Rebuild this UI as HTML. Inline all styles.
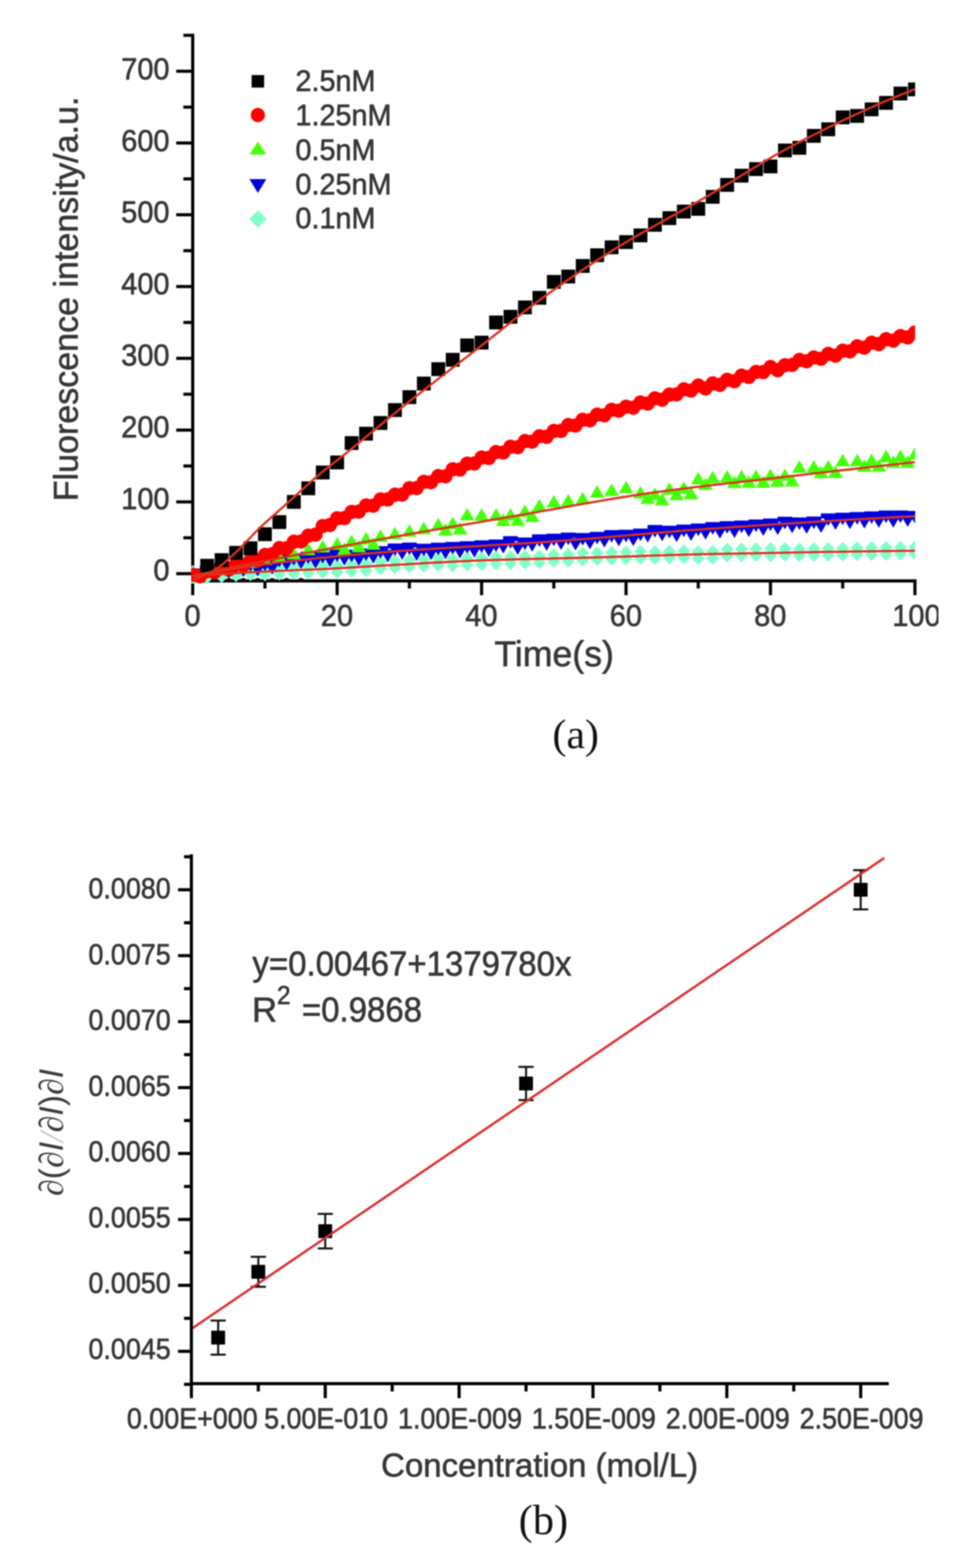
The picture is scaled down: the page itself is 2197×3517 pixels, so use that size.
<!DOCTYPE html>
<html><head><meta charset="utf-8"><title>Fluorescence kinetics figure</title>
<style>
html,body{margin:0;padding:0;background:#fff;}
body{width:2197px;height:3517px;overflow:hidden;}
svg{display:block;filter:blur(1.8px);}
text{stroke:#363636;stroke-width:1.3px;}
text[stroke=none]{stroke:none;}
</style></head><body>
<svg width="2197" height="3517" viewBox="0 0 2197 3517"><rect width="100%" height="100%" fill="#fff"/><g id="chartA">
<defs><clipPath id="clipA"><rect x="429" y="59.3" width="1624.7" height="1249.7"/></clipPath><clipPath id="clipX"><rect x="0" y="0" width="2106" height="3517"/></clipPath><clipPath id="clipB"><rect x="0" y="1900" width="2000" height="1203.5"/></clipPath></defs>
<g stroke="#000" stroke-width="7" fill="none" stroke-linecap="square">
<path d="M432.5 79.3V1302.9H2053.2"/>
<path d="M432.5 1286.8H395.5M432.5 1125.8H395.5M432.5 964.8H395.5M432.5 803.8H395.5M432.5 642.8H395.5M432.5 481.8H395.5M432.5 320.8H395.5M432.5 159.8H395.5M432.5 1206.3H411.5M432.5 1045.3H411.5M432.5 884.3H411.5M432.5 723.3H411.5M432.5 562.3H411.5M432.5 401.3H411.5M432.5 240.3H411.5M432.5 79.3H411.5M432.5 1302.9V1334.9M756.64 1302.9V1334.9M1080.78 1302.9V1334.9M1404.92 1302.9V1334.9M1729.06 1302.9V1334.9M2053.2 1302.9V1334.9M594.57 1302.9V1319.9M918.71 1302.9V1319.9M1242.85 1302.9V1319.9M1566.99 1302.9V1319.9M1891.13 1302.9V1319.9" stroke-linecap="butt"/>
</g>
<g clip-path="url(#clipA)">
<path d="M432.5 1267.31L447 1281.81L432.5 1296.31L418 1281.81ZM432.5 1282.61L447 1297.11L432.5 1311.61L418 1297.11ZM464.91 1265.18L479.41 1279.68L464.91 1294.18L450.41 1279.68ZM464.91 1280.48L479.41 1294.98L464.91 1309.48L450.41 1294.98ZM497.33 1263.14L511.83 1277.64L497.33 1292.14L482.83 1277.64ZM497.33 1278.44L511.83 1292.94L497.33 1307.44L482.83 1292.94ZM529.74 1261.2L544.24 1275.7L529.74 1290.2L515.24 1275.7ZM529.74 1276.5L544.24 1291L529.74 1305.5L515.24 1291ZM562.16 1259.37L576.66 1273.87L562.16 1288.37L547.66 1273.87ZM562.16 1274.67L576.66 1289.17L562.16 1303.67L547.66 1289.17ZM594.57 1259.65L609.07 1274.15L594.57 1288.65L580.07 1274.15ZM594.57 1274.95L609.07 1289.45L594.57 1303.95L580.07 1289.45ZM626.98 1258.11L641.48 1272.61L626.98 1287.11L612.48 1272.61ZM626.98 1273.4L641.48 1287.9L626.98 1302.4L612.48 1287.9ZM659.4 1256.72L673.9 1271.22L659.4 1285.72L644.9 1271.22ZM659.4 1272.01L673.9 1286.51L659.4 1301.01L644.9 1286.51ZM691.81 1255.37L706.31 1269.87L691.81 1284.37L677.31 1269.87ZM691.81 1270.67L706.31 1285.17L691.81 1299.67L677.31 1285.17ZM724.23 1253.97L738.73 1268.47L724.23 1282.97L709.73 1268.47ZM724.23 1269.27L738.73 1283.77L724.23 1298.27L709.73 1283.77ZM756.64 1253.7L771.14 1268.2L756.64 1282.7L742.14 1268.2ZM756.64 1268.99L771.14 1283.49L756.64 1297.99L742.14 1283.49ZM789.05 1251.85L803.55 1266.35L789.05 1280.85L774.55 1266.35ZM789.05 1267.14L803.55 1281.64L789.05 1296.14L774.55 1281.64ZM821.47 1249.81L835.97 1264.31L821.47 1278.81L806.97 1264.31ZM821.47 1265.11L835.97 1279.61L821.47 1294.11L806.97 1279.61ZM853.88 1245.66L868.38 1260.16L853.88 1274.66L839.38 1260.16ZM853.88 1260.96L868.38 1275.46L853.88 1289.96L839.38 1275.46ZM886.3 1243.83L900.8 1258.33L886.3 1272.83L871.8 1258.33ZM886.3 1259.12L900.8 1273.62L886.3 1288.12L871.8 1273.62ZM918.71 1241.97L933.21 1256.47L918.71 1270.97L904.21 1256.47ZM918.71 1257.27L933.21 1271.77L918.71 1286.27L904.21 1271.77ZM951.12 1240.13L965.62 1254.63L951.12 1269.13L936.62 1254.63ZM951.12 1255.42L965.62 1269.92L951.12 1284.42L936.62 1269.92ZM983.54 1238.34L998.04 1252.84L983.54 1267.34L969.04 1252.84ZM983.54 1253.64L998.04 1268.14L983.54 1282.64L969.04 1268.14ZM1015.95 1239.24L1030.45 1253.74L1015.95 1268.24L1001.45 1253.74ZM1015.95 1254.54L1030.45 1269.04L1015.95 1283.54L1001.45 1269.04ZM1048.37 1237.71L1062.87 1252.21L1048.37 1266.71L1033.87 1252.21ZM1048.37 1253L1062.87 1267.5L1048.37 1282L1033.87 1267.5ZM1080.78 1236.37L1095.28 1250.87L1080.78 1265.37L1066.28 1250.87ZM1080.78 1251.66L1095.28 1266.16L1080.78 1280.66L1066.28 1266.16ZM1113.19 1235.02L1127.69 1249.52L1113.19 1264.02L1098.69 1249.52ZM1113.19 1250.32L1127.69 1264.82L1113.19 1279.32L1098.69 1264.82ZM1145.61 1234.1L1160.11 1248.6L1145.61 1263.1L1131.11 1248.6ZM1145.61 1249.39L1160.11 1263.89L1145.61 1278.39L1131.11 1263.89ZM1178.02 1233.28L1192.52 1247.78L1178.02 1262.28L1163.52 1247.78ZM1178.02 1248.57L1192.52 1263.07L1178.02 1277.57L1163.52 1263.07ZM1210.44 1232.5L1224.94 1247L1210.44 1261.5L1195.94 1247ZM1210.44 1247.79L1224.94 1262.29L1210.44 1276.79L1195.94 1262.29ZM1242.85 1229.5L1257.35 1244L1242.85 1258.5L1228.35 1244ZM1242.85 1244.79L1257.35 1259.29L1242.85 1273.79L1228.35 1259.29ZM1275.26 1228.67L1289.76 1243.17L1275.26 1257.67L1260.76 1243.17ZM1275.26 1243.97L1289.76 1258.47L1275.26 1272.97L1260.76 1258.47ZM1307.68 1226.09L1322.18 1240.59L1307.68 1255.09L1293.18 1240.59ZM1307.68 1241.38L1322.18 1255.88L1307.68 1270.38L1293.18 1255.88ZM1340.09 1225.28L1354.59 1239.78L1340.09 1254.28L1325.59 1239.78ZM1340.09 1240.57L1354.59 1255.07L1340.09 1269.57L1325.59 1255.07ZM1372.51 1224.43L1387.01 1238.93L1372.51 1253.43L1358.01 1238.93ZM1372.51 1239.72L1387.01 1254.22L1372.51 1268.72L1358.01 1254.22ZM1404.92 1223.49L1419.42 1237.99L1404.92 1252.49L1390.42 1237.99ZM1404.92 1238.78L1419.42 1253.28L1404.92 1267.78L1390.42 1253.28ZM1437.33 1222.36L1451.83 1236.86L1437.33 1251.36L1422.83 1236.86ZM1437.33 1237.66L1451.83 1252.16L1437.33 1266.66L1422.83 1252.16ZM1469.75 1222.82L1484.25 1237.32L1469.75 1251.82L1455.25 1237.32ZM1469.75 1238.12L1484.25 1252.62L1469.75 1267.12L1455.25 1252.62ZM1502.16 1221.8L1516.66 1236.3L1502.16 1250.8L1487.66 1236.3ZM1502.16 1237.09L1516.66 1251.59L1502.16 1266.09L1487.66 1251.59ZM1534.58 1220.95L1549.08 1235.45L1534.58 1249.95L1520.08 1235.45ZM1534.58 1236.25L1549.08 1250.75L1534.58 1265.25L1520.08 1250.75ZM1566.99 1222.9L1581.49 1237.4L1566.99 1251.9L1552.49 1237.4ZM1566.99 1238.2L1581.49 1252.7L1566.99 1267.2L1552.49 1252.7ZM1599.4 1222.18L1613.9 1236.68L1599.4 1251.18L1584.9 1236.68ZM1599.4 1237.48L1613.9 1251.98L1599.4 1266.48L1584.9 1251.98ZM1631.82 1217.55L1646.32 1232.05L1631.82 1246.55L1617.32 1232.05ZM1631.82 1232.84L1646.32 1247.34L1631.82 1261.84L1617.32 1247.34ZM1664.23 1216.91L1678.73 1231.41L1664.23 1245.91L1649.73 1231.41ZM1664.23 1232.21L1678.73 1246.71L1664.23 1261.21L1649.73 1246.71ZM1696.65 1216.31L1711.15 1230.81L1696.65 1245.31L1682.15 1230.81ZM1696.65 1231.6L1711.15 1246.1L1696.65 1260.6L1682.15 1246.1ZM1729.06 1216.22L1743.56 1230.72L1729.06 1245.22L1714.56 1230.72ZM1729.06 1231.51L1743.56 1246.01L1729.06 1260.51L1714.56 1246.01ZM1761.47 1215.65L1775.97 1230.15L1761.47 1244.65L1746.97 1230.15ZM1761.47 1230.94L1775.97 1245.44L1761.47 1259.94L1746.97 1245.44ZM1793.89 1216.73L1808.39 1231.23L1793.89 1245.73L1779.39 1231.23ZM1793.89 1232.02L1808.39 1246.52L1793.89 1261.02L1779.39 1246.52ZM1826.3 1216.19L1840.8 1230.69L1826.3 1245.19L1811.8 1230.69ZM1826.3 1231.48L1840.8 1245.98L1826.3 1260.48L1811.8 1245.98ZM1858.72 1215.67L1873.22 1230.17L1858.72 1244.67L1844.22 1230.17ZM1858.72 1230.96L1873.22 1245.46L1858.72 1259.96L1844.22 1245.46ZM1891.13 1215.17L1905.63 1229.67L1891.13 1244.17L1876.63 1229.67ZM1891.13 1230.46L1905.63 1244.96L1891.13 1259.46L1876.63 1244.96ZM1923.54 1214.31L1938.04 1228.81L1923.54 1243.31L1909.04 1228.81ZM1923.54 1229.6L1938.04 1244.1L1923.54 1258.6L1909.04 1244.1ZM1955.96 1213.85L1970.46 1228.35L1955.96 1242.85L1941.46 1228.35ZM1955.96 1229.15L1970.46 1243.65L1955.96 1258.15L1941.46 1243.65ZM1988.37 1213.42L2002.87 1227.92L1988.37 1242.42L1973.87 1227.92ZM1988.37 1228.71L2002.87 1243.21L1988.37 1257.71L1973.87 1243.21ZM2020.79 1213.11L2035.29 1227.61L2020.79 1242.11L2006.29 1227.61ZM2020.79 1228.4L2035.29 1242.9L2020.79 1257.4L2006.29 1242.9ZM2053.2 1212.73L2067.7 1227.23L2053.2 1241.73L2038.7 1227.23ZM2053.2 1228.03L2067.7 1242.53L2053.2 1257.03L2038.7 1242.53Z" fill="#80ffc8"/>
<path d="M472.62 1304a8.5 7.5 0 0 1 17 0ZM505.03 1304a8.5 7.5 0 0 1 17 0ZM537.45 1304a8.5 7.5 0 0 1 17 0ZM569.86 1304a8.5 7.5 0 0 1 17 0ZM602.28 1304a8.5 7.5 0 0 1 17 0ZM634.69 1304a8.5 7.5 0 0 1 17 0ZM667.11 1304a8.5 7.5 0 0 1 17 0Z" fill="#101010"/>
<path d="M432.5 1303.27L449 1275.27L416 1275.27ZM448.71 1309.99L465.21 1281.99L432.21 1281.99ZM464.91 1297.43L481.41 1269.43L448.41 1269.43ZM481.12 1304.25L497.62 1276.25L464.62 1276.25ZM497.33 1291.18L513.83 1263.18L480.83 1263.18ZM513.53 1298.16L530.03 1270.16L497.03 1270.16ZM529.74 1287.13L546.24 1259.13L513.24 1259.13ZM545.95 1294.3L562.45 1266.3L529.45 1266.3ZM562.16 1282.26L578.66 1254.26L545.66 1254.26ZM578.36 1293.12L594.86 1265.12L561.86 1265.12ZM594.57 1281.35L611.07 1253.35L578.07 1253.35ZM610.78 1288.99L627.28 1260.99L594.28 1260.99ZM626.98 1272.51L643.48 1244.51L610.48 1244.51ZM643.19 1280.26L659.69 1252.26L626.69 1252.26ZM659.4 1268.74L675.9 1240.74L642.9 1240.74ZM675.61 1276.59L692.11 1248.59L659.11 1248.59ZM691.81 1265.18L708.31 1237.18L675.31 1237.18ZM708.02 1275.22L724.52 1247.22L691.52 1247.22ZM724.23 1263.9L740.73 1235.9L707.73 1235.9ZM740.43 1271.95L756.93 1243.95L723.93 1243.95ZM756.64 1260.72L773.14 1232.72L740.14 1232.72ZM772.85 1268.86L789.35 1240.86L756.35 1240.86ZM789.05 1261.13L805.55 1233.13L772.55 1233.13ZM805.26 1269.35L821.76 1241.35L788.76 1241.35ZM821.47 1258.29L837.97 1230.29L804.97 1230.29ZM837.67 1264.05L854.17 1236.05L821.17 1236.05ZM853.88 1253.06L870.38 1225.06L837.38 1225.06ZM870.09 1261.44L886.59 1233.44L853.59 1233.44ZM886.3 1247.27L902.8 1219.27L869.8 1219.27ZM902.5 1255.74L919 1227.74L886 1227.74ZM918.71 1244.94L935.21 1216.94L902.21 1216.94ZM934.92 1258.36L951.42 1230.36L918.42 1230.36ZM951.12 1247.64L967.62 1219.64L934.62 1219.64ZM967.33 1256.26L983.83 1228.26L950.83 1228.26ZM983.54 1245.59L1000.04 1217.59L967.04 1217.59ZM999.75 1254.26L1016.25 1226.26L983.25 1226.26ZM1015.95 1243.76L1032.45 1215.76L999.45 1215.76ZM1032.16 1252.47L1048.66 1224.47L1015.66 1224.47ZM1048.37 1241.95L1064.87 1213.95L1031.87 1213.95ZM1064.57 1250.67L1081.07 1222.67L1048.07 1222.67ZM1080.78 1240.07L1097.28 1212.07L1064.28 1212.07ZM1096.99 1248.8L1113.49 1220.8L1080.49 1220.8ZM1113.19 1238.2L1129.69 1210.2L1096.69 1210.2ZM1129.4 1241.46L1145.9 1213.46L1112.9 1213.46ZM1145.61 1230.83L1162.11 1202.83L1129.11 1202.83ZM1161.82 1244.42L1178.32 1216.42L1145.32 1216.42ZM1178.02 1233.75L1194.52 1205.75L1161.52 1205.75ZM1194.23 1237.54L1210.73 1209.54L1177.73 1209.54ZM1210.44 1226.82L1226.94 1198.82L1193.94 1198.82ZM1226.64 1235.38L1243.14 1207.38L1210.14 1207.38ZM1242.85 1225.15L1259.35 1197.15L1226.35 1197.15ZM1259.06 1233.62L1275.56 1205.62L1242.56 1205.62ZM1275.26 1222.74L1291.76 1194.74L1258.76 1194.74ZM1291.47 1234.74L1307.97 1206.74L1274.97 1206.74ZM1307.68 1223.78L1324.18 1195.78L1291.18 1195.78ZM1323.88 1232.12L1340.38 1204.12L1307.38 1204.12ZM1340.09 1221.11L1356.59 1193.11L1323.59 1193.11ZM1356.3 1227.95L1372.8 1199.95L1339.8 1199.95ZM1372.51 1216.91L1389.01 1188.91L1356.01 1188.91ZM1388.71 1225.17L1405.21 1197.17L1372.21 1197.17ZM1404.92 1216.42L1421.42 1188.42L1388.42 1188.42ZM1421.13 1224.68L1437.63 1196.68L1404.63 1196.68ZM1437.33 1213.63L1453.83 1185.63L1420.83 1185.63ZM1453.54 1216.85L1470.04 1188.85L1437.04 1188.85ZM1469.75 1205.81L1486.25 1177.81L1453.25 1177.81ZM1485.96 1214.12L1502.46 1186.12L1469.46 1186.12ZM1502.16 1207.42L1518.66 1179.42L1485.66 1179.42ZM1518.37 1215.77L1534.87 1187.77L1501.87 1187.77ZM1534.58 1204.84L1551.08 1176.84L1518.08 1176.84ZM1550.78 1213.26L1567.28 1185.26L1534.28 1185.26ZM1566.99 1202.4L1583.49 1174.4L1550.49 1174.4ZM1583.2 1210.16L1599.7 1182.16L1566.7 1182.16ZM1599.4 1199.36L1615.9 1171.36L1582.9 1171.36ZM1615.61 1207.89L1632.11 1179.89L1599.11 1179.89ZM1631.82 1197.11L1648.32 1169.11L1615.32 1169.11ZM1648.03 1206.63L1664.53 1178.63L1631.53 1178.63ZM1664.23 1195.87L1680.73 1167.87L1647.73 1167.87ZM1680.44 1204.44L1696.94 1176.44L1663.94 1176.44ZM1696.65 1193.45L1713.15 1165.45L1680.15 1165.45ZM1712.85 1202.04L1729.35 1174.04L1696.35 1174.04ZM1729.06 1191.31L1745.56 1163.31L1712.56 1163.31ZM1745.27 1199.91L1761.77 1171.91L1728.77 1171.91ZM1761.47 1187.31L1777.97 1159.31L1744.97 1159.31ZM1777.68 1195.94L1794.18 1167.94L1761.18 1167.94ZM1793.89 1188.67L1810.39 1160.67L1777.39 1160.67ZM1810.1 1197.31L1826.6 1169.31L1793.6 1169.31ZM1826.3 1186.65L1842.8 1158.65L1809.8 1158.65ZM1842.51 1195.32L1859.01 1167.32L1826.01 1167.32ZM1858.72 1179.84L1875.22 1151.84L1842.22 1151.84ZM1874.92 1188.53L1891.42 1160.53L1858.42 1160.53ZM1891.13 1177.92L1907.63 1149.92L1874.63 1149.92ZM1907.34 1186.64L1923.84 1158.64L1890.84 1158.64ZM1923.54 1176.84L1940.04 1148.84L1907.04 1148.84ZM1939.75 1185.58L1956.25 1157.58L1923.25 1157.58ZM1955.96 1175.02L1972.46 1147.02L1939.46 1147.02ZM1972.16 1183.8L1988.66 1155.8L1955.66 1155.8ZM1988.37 1173.27L2004.87 1145.27L1971.87 1145.27ZM2004.58 1183.46L2021.08 1155.46L1988.08 1155.46ZM2020.79 1172.95L2037.29 1144.95L2004.29 1144.95ZM2036.99 1181.79L2053.49 1153.79L2020.49 1153.79ZM2053.2 1174.05L2069.7 1146.05L2036.7 1146.05Z" fill="#0000dc"/>
<path d="M416 1275.27h33v11h-33ZM448.41 1269.43h33v11h-33ZM480.83 1263.18h33v11h-33ZM513.24 1259.13h33v11h-33ZM545.66 1254.26h33v11h-33ZM578.07 1253.35h33v11h-33ZM610.48 1244.51h33v11h-33ZM642.9 1240.74h33v11h-33ZM675.31 1237.18h33v11h-33ZM707.73 1235.9h33v11h-33ZM740.14 1232.72h33v11h-33ZM772.55 1233.13h33v11h-33ZM804.97 1230.29h33v11h-33ZM837.38 1225.06h33v11h-33ZM869.8 1219.27h33v11h-33ZM902.21 1216.94h33v11h-33ZM934.62 1219.64h33v11h-33ZM967.04 1217.59h33v11h-33ZM999.45 1215.76h33v11h-33ZM1031.87 1213.95h33v11h-33ZM1064.28 1212.07h33v11h-33ZM1096.69 1210.2h33v11h-33ZM1129.11 1202.83h33v11h-33ZM1161.52 1205.75h33v11h-33ZM1193.94 1198.82h33v11h-33ZM1226.35 1197.15h33v11h-33ZM1258.76 1194.74h33v11h-33ZM1291.18 1195.78h33v11h-33ZM1323.59 1193.11h33v11h-33ZM1356.01 1188.91h33v11h-33ZM1388.42 1188.42h33v11h-33ZM1420.83 1185.63h33v11h-33ZM1453.25 1177.81h33v11h-33ZM1485.66 1179.42h33v11h-33ZM1518.08 1176.84h33v11h-33ZM1550.49 1174.4h33v11h-33ZM1582.9 1171.36h33v11h-33ZM1615.32 1169.11h33v11h-33ZM1647.73 1167.87h33v11h-33ZM1680.15 1165.45h33v11h-33ZM1712.56 1163.31h33v11h-33ZM1744.97 1159.31h33v11h-33ZM1777.39 1160.67h33v11h-33ZM1809.8 1158.65h33v11h-33ZM1842.22 1151.84h33v11h-33ZM1874.63 1149.92h33v11h-33ZM1907.04 1148.84h33v11h-33ZM1939.46 1147.02h33v11h-33ZM1971.87 1145.27h33v11h-33ZM2004.29 1144.95h33v11h-33ZM2036.7 1146.05h33v11h-33Z" fill="#0000dc"/>
<path d="M432.5 1272.8L449 1300.8L416 1300.8ZM464.91 1265.9L481.41 1293.9L448.41 1293.9ZM497.33 1259.16L513.83 1287.16L480.83 1287.16ZM529.74 1252.53L546.24 1280.53L513.24 1280.53ZM562.16 1245.97L578.66 1273.97L545.66 1273.97ZM594.57 1239.51L611.07 1267.51L578.07 1267.51ZM626.98 1233.13L643.48 1261.13L610.48 1261.13ZM659.4 1226.85L675.9 1254.85L642.9 1254.85ZM691.81 1217.43L708.31 1245.43L675.31 1245.43ZM724.23 1211.3L740.73 1239.3L707.73 1239.3ZM756.64 1205.24L773.14 1233.24L740.14 1233.24ZM772.85 1216.73L789.35 1244.73L756.35 1244.73ZM789.05 1199.25L805.55 1227.25L772.55 1227.25ZM805.26 1210.77L821.76 1238.77L788.76 1238.77ZM821.47 1193.33L837.97 1221.33L804.97 1221.33ZM837.67 1204.88L854.17 1232.88L821.17 1232.88ZM853.88 1187.47L870.38 1215.47L837.38 1215.47ZM886.3 1181.69L902.8 1209.69L869.8 1209.69ZM918.71 1175.99L935.21 1203.99L902.21 1203.99ZM951.12 1170.35L967.62 1198.35L934.62 1198.35ZM983.54 1161.54L1000.04 1189.54L967.04 1189.54ZM999.75 1173.25L1016.25 1201.25L983.25 1201.25ZM1015.95 1159.21L1032.45 1187.21L999.45 1187.21ZM1032.16 1170.93L1048.66 1198.93L1015.66 1198.93ZM1048.37 1139.19L1064.87 1167.19L1031.87 1167.19ZM1080.78 1140.12L1097.28 1168.12L1064.28 1168.12ZM1113.19 1140.07L1129.69 1168.07L1096.69 1168.07ZM1129.4 1151.79L1145.9 1179.79L1112.9 1179.79ZM1145.61 1139.84L1162.11 1167.84L1129.11 1167.84ZM1161.82 1151.54L1178.32 1179.54L1145.32 1179.54ZM1178.02 1131.49L1194.52 1159.49L1161.52 1159.49ZM1194.23 1143.12L1210.73 1171.12L1177.73 1171.12ZM1210.44 1119.3L1226.94 1147.3L1193.94 1147.3ZM1242.85 1110.26L1259.35 1138.26L1226.35 1138.26ZM1275.26 1107.65L1291.76 1135.65L1258.76 1135.65ZM1307.68 1103.48L1324.18 1131.48L1291.18 1131.48ZM1340.09 1088.15L1356.59 1116.15L1323.59 1116.15ZM1372.51 1084.26L1389.01 1112.26L1356.01 1112.26ZM1404.92 1078.2L1421.42 1106.2L1388.42 1106.2ZM1437.33 1090.14L1453.83 1118.14L1420.83 1118.14ZM1453.54 1102.28L1470.04 1130.28L1437.04 1130.28ZM1469.75 1093.57L1486.25 1121.57L1453.25 1121.57ZM1485.96 1105.85L1502.46 1133.85L1469.46 1133.85ZM1502.16 1081.65L1518.66 1109.65L1485.66 1109.65ZM1518.37 1094.04L1534.87 1122.04L1501.87 1122.04ZM1534.58 1079.59L1551.08 1107.59L1518.08 1107.59ZM1550.78 1092.07L1567.28 1120.07L1534.28 1120.07ZM1566.99 1058.54L1583.49 1086.54L1550.49 1086.54ZM1583.2 1071.1L1599.7 1099.1L1566.7 1099.1ZM1599.4 1056.31L1615.9 1084.31L1582.9 1084.31ZM1631.82 1054.17L1648.32 1082.17L1615.32 1082.17ZM1648.03 1066.8L1664.53 1094.8L1631.53 1094.8ZM1664.23 1053.69L1680.73 1081.69L1647.73 1081.69ZM1680.44 1066.35L1696.94 1094.35L1663.94 1094.35ZM1696.65 1053.25L1713.15 1081.25L1680.15 1081.25ZM1712.85 1065.9L1729.35 1093.9L1696.35 1093.9ZM1729.06 1051.18L1745.56 1079.18L1712.56 1079.18ZM1745.27 1063.82L1761.77 1091.82L1728.77 1091.82ZM1761.47 1050.67L1777.97 1078.67L1744.97 1078.67ZM1777.68 1063.28L1794.18 1091.28L1761.18 1091.28ZM1793.89 1032.42L1810.39 1060.42L1777.39 1060.42ZM1826.3 1031.91L1842.8 1059.91L1809.8 1059.91ZM1842.51 1044.54L1859.01 1072.54L1826.01 1072.54ZM1858.72 1031.42L1875.22 1059.42L1842.22 1059.42ZM1874.92 1044.07L1891.42 1072.07L1858.42 1072.07ZM1891.13 1018.08L1907.63 1046.08L1874.63 1046.08ZM1923.54 1017.64L1940.04 1045.64L1907.04 1045.64ZM1939.75 1030.32L1956.25 1058.32L1923.25 1058.32ZM1955.96 1017.23L1972.46 1045.23L1939.46 1045.23ZM1972.16 1029.92L1988.66 1057.92L1955.66 1057.92ZM1988.37 1008.8L2004.87 1036.8L1971.87 1036.8ZM2004.58 1021.5L2021.08 1049.5L1988.08 1049.5ZM2020.79 1008.45L2037.29 1036.45L2004.29 1036.45ZM2036.99 1021.16L2053.49 1049.16L2020.49 1049.16ZM2053.2 1003.29L2069.7 1031.29L2036.7 1031.29Z" fill="#46ff0a"/>
<polyline points="432.5,1293.24 446.12,1289.87 459.74,1286.41 473.36,1282.87 486.98,1279.22 500.6,1275.55 514.22,1271.86 527.84,1268.11 541.45,1264.25 555.07,1260.26 568.69,1256.1 582.31,1251.71 595.93,1247.02 609.55,1241.87 623.17,1236.37 636.79,1230.65 650.41,1224.68 664.03,1218.41 677.65,1211.77 691.27,1204.56 704.89,1196.5 718.51,1188.09 732.13,1179.85 745.74,1172.29 759.36,1165.66 772.98,1159.51 786.6,1153.69 800.22,1148.1 813.84,1142.61 827.46,1137.12 841.08,1131.5 854.7,1125.64 868.32,1119.6 881.94,1113.46 895.56,1107.27 909.18,1101.07 922.8,1094.93 936.42,1088.88 950.03,1082.98 963.65,1077.27 977.27,1071.67 990.89,1066.14 1004.51,1060.68 1018.13,1055.28 1031.75,1049.93 1045.37,1044.64 1058.99,1039.4 1072.61,1034.19 1086.23,1029.03 1099.85,1023.9 1113.47,1018.8 1127.09,1013.72 1140.71,1008.67 1154.32,1003.63 1167.94,998.6 1181.56,993.57 1195.18,988.55 1208.8,983.53 1222.42,978.47 1236.04,973.39 1249.66,968.29 1263.28,963.2 1276.9,958.13 1290.52,953.1 1304.14,948.13 1317.76,943.24 1331.38,938.43 1344.99,933.74 1358.61,929.18 1372.23,924.77 1385.85,920.51 1399.47,916.35 1413.09,912.27 1426.71,908.26 1440.33,904.32 1453.95,900.44 1467.57,896.62 1481.19,892.86 1494.81,889.15 1508.43,885.48 1522.05,881.86 1535.67,878.28 1549.28,874.73 1562.9,871.21 1576.52,867.72 1590.14,864.25 1603.76,860.8 1617.38,857.36 1631,853.93 1644.62,850.51 1658.24,847.09 1671.86,843.66 1685.48,840.23 1699.1,836.78 1712.72,833.32 1726.34,829.84 1739.96,826.35 1753.57,822.87 1767.19,819.41 1780.81,815.95 1794.43,812.5 1808.05,809.07 1821.67,805.64 1835.29,802.22 1848.91,798.82 1862.53,795.43 1876.15,792.04 1889.77,788.67 1903.39,785.31 1917.01,781.96 1930.63,778.62 1944.25,775.29 1957.86,771.98 1971.48,768.67 1985.1,765.37 1998.72,762.09 2012.34,758.81 2025.96,755.55 2039.58,752.3 2053.2,749.06" fill="none" stroke="#e0301c" stroke-width="5"/>
<path d="M416.5 1289.15a16 16 0 1 0 32 0a16 16 0 1 0 -32 0ZM432.71 1292.21a16 16 0 1 0 32 0a16 16 0 1 0 -32 0ZM448.91 1280.99a16 16 0 1 0 32 0a16 16 0 1 0 -32 0ZM465.12 1283.79a16 16 0 1 0 32 0a16 16 0 1 0 -32 0ZM481.33 1272.34a16 16 0 1 0 32 0a16 16 0 1 0 -32 0ZM497.53 1277.33a16 16 0 1 0 32 0a16 16 0 1 0 -32 0ZM513.74 1265.78a16 16 0 1 0 32 0a16 16 0 1 0 -32 0ZM529.95 1268.24a16 16 0 1 0 32 0a16 16 0 1 0 -32 0ZM546.16 1256.33a16 16 0 1 0 32 0a16 16 0 1 0 -32 0ZM562.36 1257.33a16 16 0 1 0 32 0a16 16 0 1 0 -32 0ZM578.57 1244.75a16 16 0 1 0 32 0a16 16 0 1 0 -32 0ZM594.78 1243.01a16 16 0 1 0 32 0a16 16 0 1 0 -32 0ZM610.98 1229.32a16 16 0 1 0 32 0a16 16 0 1 0 -32 0ZM627.19 1229.5a16 16 0 1 0 32 0a16 16 0 1 0 -32 0ZM643.4 1215.12a16 16 0 1 0 32 0a16 16 0 1 0 -32 0ZM659.61 1214.41a16 16 0 1 0 32 0a16 16 0 1 0 -32 0ZM675.81 1201.51a16 16 0 1 0 32 0a16 16 0 1 0 -32 0ZM692.02 1198.92a16 16 0 1 0 32 0a16 16 0 1 0 -32 0ZM708.23 1179.93a16 16 0 1 0 32 0a16 16 0 1 0 -32 0ZM724.43 1177.56a16 16 0 1 0 32 0a16 16 0 1 0 -32 0ZM740.64 1162.42a16 16 0 1 0 32 0a16 16 0 1 0 -32 0ZM756.85 1162.12a16 16 0 1 0 32 0a16 16 0 1 0 -32 0ZM773.05 1148.14a16 16 0 1 0 32 0a16 16 0 1 0 -32 0ZM789.26 1147.42a16 16 0 1 0 32 0a16 16 0 1 0 -32 0ZM805.47 1133.82a16 16 0 1 0 32 0a16 16 0 1 0 -32 0ZM821.67 1134.28a16 16 0 1 0 32 0a16 16 0 1 0 -32 0ZM837.88 1120.27a16 16 0 1 0 32 0a16 16 0 1 0 -32 0ZM854.09 1120.17a16 16 0 1 0 32 0a16 16 0 1 0 -32 0ZM870.3 1109.59a16 16 0 1 0 32 0a16 16 0 1 0 -32 0ZM886.5 1109.3a16 16 0 1 0 32 0a16 16 0 1 0 -32 0ZM902.71 1094.88a16 16 0 1 0 32 0a16 16 0 1 0 -32 0ZM918.92 1094.74a16 16 0 1 0 32 0a16 16 0 1 0 -32 0ZM935.12 1080.63a16 16 0 1 0 32 0a16 16 0 1 0 -32 0ZM951.33 1081.46a16 16 0 1 0 32 0a16 16 0 1 0 -32 0ZM967.54 1067.75a16 16 0 1 0 32 0a16 16 0 1 0 -32 0ZM983.75 1068.3a16 16 0 1 0 32 0a16 16 0 1 0 -32 0ZM999.95 1052.57a16 16 0 1 0 32 0a16 16 0 1 0 -32 0ZM1016.16 1053.29a16 16 0 1 0 32 0a16 16 0 1 0 -32 0ZM1032.37 1039.91a16 16 0 1 0 32 0a16 16 0 1 0 -32 0ZM1048.57 1039.48a16 16 0 1 0 32 0a16 16 0 1 0 -32 0ZM1064.78 1026.22a16 16 0 1 0 32 0a16 16 0 1 0 -32 0ZM1080.99 1027.12a16 16 0 1 0 32 0a16 16 0 1 0 -32 0ZM1097.19 1013.96a16 16 0 1 0 32 0a16 16 0 1 0 -32 0ZM1113.4 1015a16 16 0 1 0 32 0a16 16 0 1 0 -32 0ZM1129.61 1001.91a16 16 0 1 0 32 0a16 16 0 1 0 -32 0ZM1145.82 1003a16 16 0 1 0 32 0a16 16 0 1 0 -32 0ZM1162.02 989.31a16 16 0 1 0 32 0a16 16 0 1 0 -32 0ZM1178.23 990.42a16 16 0 1 0 32 0a16 16 0 1 0 -32 0ZM1194.44 978.54a16 16 0 1 0 32 0a16 16 0 1 0 -32 0ZM1210.64 979.6a16 16 0 1 0 32 0a16 16 0 1 0 -32 0ZM1226.85 966.46a16 16 0 1 0 32 0a16 16 0 1 0 -32 0ZM1243.06 966.44a16 16 0 1 0 32 0a16 16 0 1 0 -32 0ZM1259.26 953.31a16 16 0 1 0 32 0a16 16 0 1 0 -32 0ZM1275.47 954.41a16 16 0 1 0 32 0a16 16 0 1 0 -32 0ZM1291.68 941.43a16 16 0 1 0 32 0a16 16 0 1 0 -32 0ZM1307.88 942.72a16 16 0 1 0 32 0a16 16 0 1 0 -32 0ZM1324.09 929.89a16 16 0 1 0 32 0a16 16 0 1 0 -32 0ZM1340.3 931.5a16 16 0 1 0 32 0a16 16 0 1 0 -32 0ZM1356.51 919.15a16 16 0 1 0 32 0a16 16 0 1 0 -32 0ZM1372.71 921.19a16 16 0 1 0 32 0a16 16 0 1 0 -32 0ZM1388.92 912.23a16 16 0 1 0 32 0a16 16 0 1 0 -32 0ZM1405.13 914.49a16 16 0 1 0 32 0a16 16 0 1 0 -32 0ZM1421.33 902.69a16 16 0 1 0 32 0a16 16 0 1 0 -32 0ZM1437.54 905.15a16 16 0 1 0 32 0a16 16 0 1 0 -32 0ZM1453.75 893.53a16 16 0 1 0 32 0a16 16 0 1 0 -32 0ZM1469.96 896.55a16 16 0 1 0 32 0a16 16 0 1 0 -32 0ZM1486.16 885.07a16 16 0 1 0 32 0a16 16 0 1 0 -32 0ZM1502.37 884.54a16 16 0 1 0 32 0a16 16 0 1 0 -32 0ZM1518.58 873.19a16 16 0 1 0 32 0a16 16 0 1 0 -32 0ZM1534.78 875.97a16 16 0 1 0 32 0a16 16 0 1 0 -32 0ZM1550.99 864.71a16 16 0 1 0 32 0a16 16 0 1 0 -32 0ZM1567.2 871.3a16 16 0 1 0 32 0a16 16 0 1 0 -32 0ZM1583.4 860.1a16 16 0 1 0 32 0a16 16 0 1 0 -32 0ZM1599.61 863.09a16 16 0 1 0 32 0a16 16 0 1 0 -32 0ZM1615.82 851.93a16 16 0 1 0 32 0a16 16 0 1 0 -32 0ZM1632.03 854.94a16 16 0 1 0 32 0a16 16 0 1 0 -32 0ZM1648.23 842.4a16 16 0 1 0 32 0a16 16 0 1 0 -32 0ZM1664.44 845.41a16 16 0 1 0 32 0a16 16 0 1 0 -32 0ZM1680.65 834.23a16 16 0 1 0 32 0a16 16 0 1 0 -32 0ZM1696.85 834.59a16 16 0 1 0 32 0a16 16 0 1 0 -32 0ZM1713.06 823.36a16 16 0 1 0 32 0a16 16 0 1 0 -32 0ZM1729.27 830.37a16 16 0 1 0 32 0a16 16 0 1 0 -32 0ZM1745.47 819.15a16 16 0 1 0 32 0a16 16 0 1 0 -32 0ZM1761.68 818.38a16 16 0 1 0 32 0a16 16 0 1 0 -32 0ZM1777.89 807.19a16 16 0 1 0 32 0a16 16 0 1 0 -32 0ZM1794.1 810.18a16 16 0 1 0 32 0a16 16 0 1 0 -32 0ZM1810.3 801.76a16 16 0 1 0 32 0a16 16 0 1 0 -32 0ZM1826.51 804.78a16 16 0 1 0 32 0a16 16 0 1 0 -32 0ZM1842.72 793.65a16 16 0 1 0 32 0a16 16 0 1 0 -32 0ZM1858.92 797.66a16 16 0 1 0 32 0a16 16 0 1 0 -32 0ZM1875.13 786.57a16 16 0 1 0 32 0a16 16 0 1 0 -32 0ZM1891.34 787.88a16 16 0 1 0 32 0a16 16 0 1 0 -32 0ZM1907.54 776.81a16 16 0 1 0 32 0a16 16 0 1 0 -32 0ZM1923.75 779.75a16 16 0 1 0 32 0a16 16 0 1 0 -32 0ZM1939.96 768.72a16 16 0 1 0 32 0a16 16 0 1 0 -32 0ZM1956.16 771.86a16 16 0 1 0 32 0a16 16 0 1 0 -32 0ZM1972.37 760.86a16 16 0 1 0 32 0a16 16 0 1 0 -32 0ZM1988.58 764.04a16 16 0 1 0 32 0a16 16 0 1 0 -32 0ZM2004.79 753.63a16 16 0 1 0 32 0a16 16 0 1 0 -32 0ZM2020.99 756.85a16 16 0 1 0 32 0a16 16 0 1 0 -32 0ZM2037.2 745.9a16 16 0 1 0 32 0a16 16 0 1 0 -32 0Z" fill="#ff0000"/>
<path d="M449.41 1253.59h31v31h-31ZM481.83 1240.71h31v31h-31ZM514.24 1224.61h31v31h-31ZM546.66 1214.14h31v31h-31ZM579.07 1182.75h31v31h-31ZM611.48 1155.38h31v31h-31ZM643.9 1110.3h31v31h-31ZM676.31 1079.71h31v31h-31ZM708.73 1044.29h31v31h-31ZM741.14 1021.75h31v31h-31ZM773.55 978.28h31v31h-31ZM805.97 957.35h31v31h-31ZM838.38 933.2h31v31h-31ZM870.8 904.22h31v31h-31ZM903.21 875.24h31v31h-31ZM935.62 844.65h31v31h-31ZM968.04 812.45h31v31h-31ZM1000.45 791.52h31v31h-31ZM1032.87 759.32h31v31h-31ZM1065.28 752.88h31v31h-31ZM1097.69 707.8h31v31h-31ZM1130.11 694.92h31v31h-31ZM1162.52 673.99h31v31h-31ZM1194.94 652.42h31v31h-31ZM1227.35 616.67h31v31h-31ZM1259.76 604.76h31v31h-31ZM1292.18 580.93h31v31h-31ZM1324.59 557.1h31v31h-31ZM1357.01 539.23h31v31h-31ZM1389.42 527.48h31v31h-31ZM1421.83 512.51h31v31h-31ZM1454.25 488.84h31v31h-31ZM1486.66 473.87h31v31h-31ZM1519.08 458.89h31v31h-31ZM1551.49 452.94h31v31h-31ZM1583.9 426.05h31v31h-31ZM1616.32 399.32h31v31h-31ZM1648.73 378.55h31v31h-31ZM1681.15 363.74h31v31h-31ZM1713.56 357.79h31v31h-31ZM1745.97 322.04h31v31h-31ZM1778.39 316.09h31v31h-31ZM1810.8 289.2h31v31h-31ZM1843.22 274.39h31v31h-31ZM1875.63 247.66h31v31h-31ZM1908.04 244.6h31v31h-31ZM1940.46 229.63h31v31h-31ZM1972.87 215.14h31v31h-31ZM2005.29 194.21h31v31h-31ZM2037.7 185.03h31v31h-31Z" fill="#000000"/>
<polyline points="432.5,1291.63 446.12,1290.72 459.74,1289.83 473.36,1288.96 486.98,1288.1 500.6,1287.26 514.22,1286.44 527.84,1285.63 541.45,1284.84 555.07,1284.08 568.69,1283.33 582.31,1282.61 595.93,1281.9 609.55,1281.23 623.17,1280.6 636.79,1279.99 650.41,1279.41 664.03,1278.84 677.65,1278.28 691.27,1277.71 704.89,1277.14 718.51,1276.54 732.13,1275.93 745.74,1275.28 759.36,1274.58 772.98,1273.83 786.6,1273.02 800.22,1272.18 813.84,1271.32 827.46,1270.46 841.08,1269.61 854.7,1268.79 868.32,1268.02 881.94,1267.25 895.56,1266.48 909.18,1265.7 922.8,1264.92 936.42,1264.14 950.03,1263.37 963.65,1262.61 977.27,1261.86 990.89,1261.13 1004.51,1260.41 1018.13,1259.72 1031.75,1259.06 1045.37,1258.43 1058.99,1257.83 1072.61,1257.27 1086.23,1256.75 1099.85,1256.27 1113.47,1255.84 1127.09,1255.43 1140.71,1255.05 1154.32,1254.69 1167.94,1254.34 1181.56,1254.01 1195.18,1253.68 1208.8,1253.36 1222.42,1253.02 1236.04,1252.68 1249.66,1252.33 1263.28,1251.98 1276.9,1251.64 1290.52,1251.31 1304.14,1250.97 1317.76,1250.63 1331.38,1250.3 1344.99,1249.95 1358.61,1249.59 1372.23,1249.23 1385.85,1248.85 1399.47,1248.45 1413.09,1248.02 1426.71,1247.54 1440.33,1247.05 1453.95,1246.54 1467.57,1246.05 1481.19,1245.58 1494.81,1245.15 1508.43,1244.77 1522.05,1244.42 1535.67,1244.07 1549.28,1243.74 1562.9,1243.42 1576.52,1243.11 1590.14,1242.8 1603.76,1242.51 1617.38,1242.22 1631,1241.95 1644.62,1241.68 1658.24,1241.41 1671.86,1241.15 1685.48,1240.9 1699.1,1240.65 1712.72,1240.4 1726.34,1240.16 1739.96,1239.92 1753.57,1239.68 1767.19,1239.44 1780.81,1239.21 1794.43,1238.98 1808.05,1238.75 1821.67,1238.53 1835.29,1238.3 1848.91,1238.09 1862.53,1237.87 1876.15,1237.66 1889.77,1237.45 1903.39,1237.24 1917.01,1237.04 1930.63,1236.85 1944.25,1236.65 1957.86,1236.47 1971.48,1236.28 1985.1,1236.1 1998.72,1235.93 2012.34,1235.76 2025.96,1235.59 2039.58,1235.43 2053.2,1235.28" fill="none" stroke="#e0301c" stroke-width="5"/>
<polyline points="432.5,1291.63 446.12,1289.16 459.74,1286.71 473.36,1284.3 486.98,1281.94 500.6,1279.63 514.22,1277.38 527.84,1275.19 541.45,1273.08 555.07,1271.05 568.69,1269.1 582.31,1267.25 595.93,1265.49 609.55,1263.8 623.17,1262.14 636.79,1260.52 650.41,1258.94 664.03,1257.4 677.65,1255.89 691.27,1254.41 704.89,1252.98 718.51,1251.57 732.13,1250.2 745.74,1248.86 759.36,1247.55 772.98,1246.27 786.6,1245.02 800.22,1243.8 813.84,1242.61 827.46,1241.45 841.08,1240.32 854.7,1239.21 868.32,1238.13 881.94,1237.08 895.56,1236.07 909.18,1235.09 922.8,1234.14 936.42,1233.22 950.03,1232.32 963.65,1231.44 977.27,1230.59 990.89,1229.75 1004.51,1228.93 1018.13,1228.11 1031.75,1227.31 1045.37,1226.52 1058.99,1225.73 1072.61,1224.95 1086.23,1224.16 1099.85,1223.37 1113.47,1222.58 1127.09,1221.78 1140.71,1220.97 1154.32,1220.15 1167.94,1219.32 1181.56,1218.46 1195.18,1217.59 1208.8,1216.7 1222.42,1215.78 1236.04,1214.83 1249.66,1213.86 1263.28,1212.85 1276.9,1211.82 1290.52,1210.76 1304.14,1209.67 1317.76,1208.57 1331.38,1207.44 1344.99,1206.3 1358.61,1205.15 1372.23,1203.99 1385.85,1202.82 1399.47,1201.64 1413.09,1200.47 1426.71,1199.3 1440.33,1198.12 1453.95,1196.96 1467.57,1195.81 1481.19,1194.66 1494.81,1193.53 1508.43,1192.42 1522.05,1191.33 1535.67,1190.26 1549.28,1189.22 1562.9,1188.21 1576.52,1187.22 1590.14,1186.26 1603.76,1185.31 1617.38,1184.37 1631,1183.43 1644.62,1182.49 1658.24,1181.56 1671.86,1180.64 1685.48,1179.72 1699.1,1178.81 1712.72,1177.91 1726.34,1177.01 1739.96,1176.12 1753.57,1175.24 1767.19,1174.37 1780.81,1173.5 1794.43,1172.64 1808.05,1171.79 1821.67,1170.95 1835.29,1170.11 1848.91,1169.28 1862.53,1168.47 1876.15,1167.66 1889.77,1166.85 1903.39,1166.06 1917.01,1165.28 1930.63,1164.51 1944.25,1163.74 1957.86,1162.99 1971.48,1162.25 1985.1,1161.51 1998.72,1160.79 2012.34,1160.08 2025.96,1159.37 2039.58,1158.68 2053.2,1158" fill="none" stroke="#e0301c" stroke-width="5"/>
<polyline points="432.5,1291.63 446.12,1288.72 459.74,1285.82 473.36,1282.96 486.98,1280.13 500.6,1277.32 514.22,1274.53 527.84,1271.75 541.45,1268.98 555.07,1266.23 568.69,1263.49 582.31,1260.77 595.93,1258.07 609.55,1255.38 623.17,1252.71 636.79,1250.05 650.41,1247.42 664.03,1244.79 677.65,1242.18 691.27,1239.59 704.89,1237 718.51,1234.43 732.13,1231.87 745.74,1229.32 759.36,1226.79 772.98,1224.26 786.6,1221.75 800.22,1219.25 813.84,1216.77 827.46,1214.29 841.08,1211.83 854.7,1209.37 868.32,1206.93 881.94,1204.51 895.56,1202.1 909.18,1199.71 922.8,1197.32 936.42,1194.95 950.03,1192.59 963.65,1190.23 977.27,1187.89 990.89,1185.55 1004.51,1183.22 1018.13,1180.89 1031.75,1178.56 1045.37,1176.24 1058.99,1173.92 1072.61,1171.61 1086.23,1169.29 1099.85,1166.97 1113.47,1164.65 1127.09,1162.32 1140.71,1159.99 1154.32,1157.66 1167.94,1155.3 1181.56,1152.91 1195.18,1150.51 1208.8,1148.08 1222.42,1145.64 1236.04,1143.19 1249.66,1140.74 1263.28,1138.29 1276.9,1135.84 1290.52,1133.41 1304.14,1130.98 1317.76,1128.58 1331.38,1126.2 1344.99,1123.84 1358.61,1121.52 1372.23,1119.24 1385.85,1116.99 1399.47,1114.8 1413.09,1112.65 1426.71,1110.56 1440.33,1108.53 1453.95,1106.56 1467.57,1104.65 1481.19,1102.79 1494.81,1100.96 1508.43,1099.18 1522.05,1097.43 1535.67,1095.71 1549.28,1094.02 1562.9,1092.36 1576.52,1090.72 1590.14,1089.1 1603.76,1087.51 1617.38,1085.93 1631,1084.36 1644.62,1082.8 1658.24,1081.25 1671.86,1079.71 1685.48,1078.17 1699.1,1076.63 1712.72,1075.09 1726.34,1073.54 1739.96,1071.99 1753.57,1070.42 1767.19,1068.84 1780.81,1067.26 1794.43,1065.68 1808.05,1064.11 1821.67,1062.54 1835.29,1060.98 1848.91,1059.42 1862.53,1057.87 1876.15,1056.32 1889.77,1054.77 1903.39,1053.23 1917.01,1051.7 1930.63,1050.17 1944.25,1048.64 1957.86,1047.12 1971.48,1045.61 1985.1,1044.09 1998.72,1042.59 2012.34,1041.08 2025.96,1039.59 2039.58,1038.09 2053.2,1036.61" fill="none" stroke="#e0301c" stroke-width="5"/>
<polyline points="432.5,1299.68 446.12,1295.59 459.74,1289.91 473.36,1283.04 486.98,1275.14 500.6,1264.87 514.22,1252.87 527.84,1240.25 541.45,1227.09 555.07,1212.74 568.69,1198.3 582.31,1184.81 595.93,1172.12 609.55,1159.84 623.17,1147.76 636.79,1135.7 650.41,1123.48 664.03,1111.07 677.65,1098.62 691.27,1086.27 704.89,1074.16 718.51,1062.41 732.13,1051.22 745.74,1040.79 759.36,1030.27 772.98,1019.43 786.6,1008.45 800.22,997.36 813.84,986.19 827.46,974.97 841.08,963.72 854.7,952.47 868.32,941.25 881.94,930.08 895.56,918.99 909.18,908.01 922.8,897.16 936.42,886.42 950.03,875.75 963.65,865.16 977.27,854.61 990.89,844.11 1004.51,833.63 1018.13,823.17 1031.75,812.7 1045.37,802.22 1058.99,791.72 1072.61,781.17 1086.23,770.56 1099.85,759.83 1113.47,748.99 1127.09,738.1 1140.71,727.21 1154.32,716.37 1167.94,705.64 1181.56,695.06 1195.18,684.7 1208.8,674.58 1222.42,664.69 1236.04,654.9 1249.66,645.21 1263.28,635.62 1276.9,626.15 1290.52,616.79 1304.14,607.54 1317.76,598.41 1331.38,589.41 1344.99,580.54 1358.61,571.79 1372.23,563.18 1385.85,554.71 1399.47,546.43 1413.09,538.32 1426.71,530.37 1440.33,522.54 1453.95,514.82 1467.57,507.19 1481.19,499.61 1494.81,492.07 1508.43,484.54 1522.05,477 1535.67,469.43 1549.28,461.8 1562.9,454.09 1576.52,446.28 1590.14,438.33 1603.76,430.24 1617.38,422.03 1631,413.74 1644.62,405.39 1658.24,397.02 1671.86,388.65 1685.48,380.33 1699.1,372.07 1712.72,363.91 1726.34,355.87 1739.96,348 1753.57,340.32 1767.19,332.86 1780.81,325.65 1794.43,318.58 1808.05,311.58 1821.67,304.64 1835.29,297.78 1848.91,290.99 1862.53,284.28 1876.15,277.65 1889.77,271.1 1903.39,264.63 1917.01,258.26 1930.63,251.97 1944.25,245.78 1957.86,239.69 1971.48,233.7 1985.1,227.82 1998.72,222.04 2012.34,216.37 2025.96,210.81 2039.58,205.37 2053.2,200.05" fill="none" stroke="#e0301c" stroke-width="5"/>
</g>
<g font-family="'Liberation Sans', Arial, sans-serif" font-size="65" fill="#363636">
<text transform="translate(380.5 1302.12) scale(1 1.04)" text-anchor="end">0</text>
<text transform="translate(380.5 1141.56) scale(1 1.04)" text-anchor="end">100</text>
<text transform="translate(380.5 981) scale(1 1.04)" text-anchor="end">200</text>
<text transform="translate(380.5 820.44) scale(1 1.04)" text-anchor="end">300</text>
<text transform="translate(380.5 659.88) scale(1 1.04)" text-anchor="end">400</text>
<text transform="translate(380.5 499.32) scale(1 1.04)" text-anchor="end">500</text>
<text transform="translate(380.5 338.76) scale(1 1.04)" text-anchor="end">600</text>
<text transform="translate(380.5 178.2) scale(1 1.04)" text-anchor="end">700</text>
</g>
<g font-family="'Liberation Sans', Arial, sans-serif" font-size="65" fill="#363636" clip-path="url(#clipX)">
<text transform="translate(432 1404.3) scale(1 1.04)" text-anchor="middle">0</text>
<text transform="translate(756.14 1404.3) scale(1 1.04)" text-anchor="middle">20</text>
<text transform="translate(1080.28 1404.3) scale(1 1.04)" text-anchor="middle">40</text>
<text transform="translate(1404.42 1404.3) scale(1 1.04)" text-anchor="middle">60</text>
<text transform="translate(1728.56 1404.3) scale(1 1.04)" text-anchor="middle">80</text>
<text transform="translate(2056.7 1404.3) scale(1 1.04)" text-anchor="middle">100</text>
</g>
<text x="1243.5" y="1493.5" text-anchor="middle" font-family="'Liberation Sans', Arial, sans-serif" font-size="80" fill="#363636">Time(s)</text>
<text transform="translate(173.5 670.5) rotate(-90)" text-anchor="middle" font-family="'Liberation Sans', Arial, sans-serif" font-size="76.3" fill="#363636">Fluorescence intensity/a.u.</text>
<rect x="564.7" y="168.4" width="28" height="28" fill="#000000"/>
<text transform="translate(663 203.8) scale(1.01 1.04)" font-family="'Liberation Sans', Arial, sans-serif" font-size="64" fill="#363636">2.5nM</text>
<circle cx="578.7" cy="258" r="16" fill="#ff0000"/>
<text transform="translate(663 281.2) scale(1.01 1.04)" font-family="'Liberation Sans', Arial, sans-serif" font-size="64" fill="#363636">1.25nM</text>
<path d="M578.7 317.5L597.7 346.5L559.7 346.5Z" fill="#46ff0a"/>
<text transform="translate(663 358.6) scale(1.01 1.04)" font-family="'Liberation Sans', Arial, sans-serif" font-size="64" fill="#363636">0.5nM</text>
<path d="M578.7 432.8L597.7 401.8L559.7 401.8Z" fill="#0000dc"/>
<text transform="translate(663 435.8) scale(1.01 1.04)" font-family="'Liberation Sans', Arial, sans-serif" font-size="64" fill="#363636">0.25nM</text>
<path d="M578.7 471.5L598.2 491L578.7 510.5L559.2 491Z" fill="#80ffc8"/>
<text transform="translate(663 511.8) scale(1.01 1.04)" font-family="'Liberation Sans', Arial, sans-serif" font-size="64" fill="#363636">0.1nM</text>
</g>
<text x="1292" y="1678" text-anchor="middle" font-family="'Liberation Serif', 'Times New Roman', serif" font-size="94" fill="#111" stroke="none">(a)</text>
<g id="chartB">
<line x1="429.5" y1="2980.71" x2="1984.4" y2="1924.43" stroke="#dc2c2c" stroke-width="5"/>
<path d="M489.58 2962.08V3038.39M472.58 2962.08H506.58M472.58 3038.39H506.58" stroke="#111" stroke-width="4.5" fill="none"/>
<rect x="474.08" y="2984.74" width="31" height="31" fill="#000"/>
<path d="M579.7 2818.91V2886.35M562.7 2818.91H596.7M562.7 2886.35H596.7" stroke="#111" stroke-width="4.5" fill="none"/>
<rect x="564.2" y="2837.13" width="31" height="31" fill="#000"/>
<path d="M729.9 2722.78V2800.28M712.9 2722.78H746.9M712.9 2800.28H746.9" stroke="#111" stroke-width="4.5" fill="none"/>
<rect x="714.4" y="2746.03" width="31" height="31" fill="#000"/>
<path d="M1180.5 2392.96V2467.5M1163.5 2392.96H1197.5M1163.5 2467.5H1197.5" stroke="#111" stroke-width="4.5" fill="none"/>
<rect x="1165" y="2414.73" width="31" height="31" fill="#000"/>
<path d="M1931.5 1951.63V2039.77M1914.5 1951.63H1948.5M1914.5 2039.77H1948.5" stroke="#111" stroke-width="4.5" fill="none"/>
<rect x="1916" y="1980.2" width="31" height="31" fill="#000"/>
<line x1="429.5" y1="2980.71" x2="1984.4" y2="1924.43" stroke="#dc2c2c" stroke-width="5"/>
<g stroke="#000" stroke-width="7" fill="none">
<path d="M429.5 1919.7V3103.5H1991" stroke-linecap="square"/>
<path d="M429.5 3031H399.5M429.5 2883.1H399.5M429.5 2735.2H399.5M429.5 2587.3H399.5M429.5 2439.4H399.5M429.5 2291.5H399.5M429.5 2143.6H399.5M429.5 1995.7H399.5M429.5 3104.95H413M429.5 2957.05H413M429.5 2809.15H413M429.5 2661.25H413M429.5 2513.35H413M429.5 2365.45H413M429.5 2217.55H413M429.5 2069.65H413M429.5 1921.75H413M429.5 3103.5V3136M729.9 3103.5V3136M1030.3 3103.5V3136M1330.7 3103.5V3136M1631.1 3103.5V3136M1931.5 3103.5V3136M579.7 3103.5V3121M880.1 3103.5V3121M1180.5 3103.5V3121M1480.9 3103.5V3121M1781.3 3103.5V3121"/>
</g>
<g font-family="'Liberation Sans', Arial, sans-serif" font-size="60.3" fill="#363636">
<text transform="translate(383 3048) scale(1 1.09)" text-anchor="end">0.0045</text>
<text transform="translate(383 2900.44) scale(1 1.09)" text-anchor="end">0.0050</text>
<text transform="translate(383 2752.88) scale(1 1.09)" text-anchor="end">0.0055</text>
<text transform="translate(383 2605.32) scale(1 1.09)" text-anchor="end">0.0060</text>
<text transform="translate(383 2457.76) scale(1 1.09)" text-anchor="end">0.0065</text>
<text transform="translate(383 2310.2) scale(1 1.09)" text-anchor="end">0.0070</text>
<text transform="translate(383 2162.64) scale(1 1.09)" text-anchor="end">0.0075</text>
<text transform="translate(383 2015.08) scale(1 1.09)" text-anchor="end">0.0080</text>
<text transform="translate(431.5 3204) scale(1 1.09)" text-anchor="middle">0.00E+000</text>
<text transform="translate(731.9 3204) scale(1 1.09)" text-anchor="middle">5.00E-010</text>
<text transform="translate(1032.3 3204) scale(1 1.09)" text-anchor="middle">1.00E-009</text>
<text transform="translate(1332.7 3204) scale(1 1.09)" text-anchor="middle">1.50E-009</text>
<text transform="translate(1633.1 3204) scale(1 1.09)" text-anchor="middle">2.00E-009</text>
<text transform="translate(1933.5 3204) scale(1 1.09)" text-anchor="middle">2.50E-009</text>
</g>
<text x="1211" y="3312" text-anchor="middle" font-family="'Liberation Sans', Arial, sans-serif" font-size="74" fill="#363636">Concentration (mol/L)</text>
<text transform="translate(566.5 2187.5) scale(1 1.05)" font-family="'Liberation Sans', Arial, sans-serif" font-size="74" fill="#363636">y=0.00467+1379780x</text>
<g font-family="'Liberation Sans', Arial, sans-serif" fill="#363636">
<text transform="translate(565.5 2290.5) scale(1.04 1.04)" font-size="75">R</text>
<text transform="translate(621.5 2252) scale(1 1.04)" font-size="55">2</text>
<text transform="translate(677.5 2290.5) scale(1 1.05)" font-size="74">=0.9868</text>
</g>
<text transform="translate(141 2540) rotate(-90)" text-anchor="middle" font-family="'Liberation Serif', 'Times New Roman', serif" font-style="italic" font-size="76" fill="#3a3a3a" stroke="none">&#8706;<tspan font-family="Liberation Sans, sans-serif" font-style="normal">(</tspan>&#8706;<tspan font-family="Liberation Sans, sans-serif">I</tspan><tspan fill="#c4c4c4">/</tspan>&#8706;<tspan font-family="Liberation Sans, sans-serif">I</tspan><tspan font-family="Liberation Sans, sans-serif" font-style="normal">)</tspan>&#8706;<tspan font-family="Liberation Sans, sans-serif">I</tspan></text>
</g>
<text x="1219.5" y="3441" text-anchor="middle" font-family="'Liberation Serif', 'Times New Roman', serif" font-size="95" fill="#111" stroke="none">(b)</text></svg>
</body></html>
